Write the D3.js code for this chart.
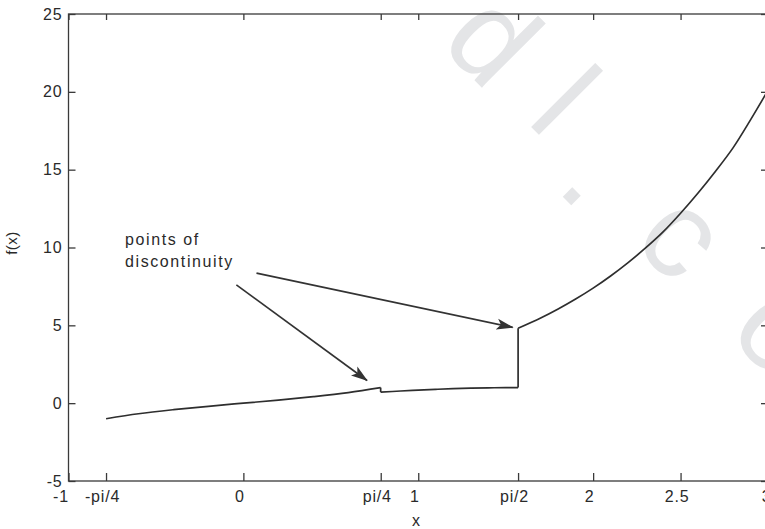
<!DOCTYPE html>
<html>
<head>
<meta charset="utf-8">
<script src="https://cdnjs.cloudflare.com/ajax/libs/d3/7.8.5/d3.min.js"></script>
<style>
  body { margin: 0; background: #fff; }
  svg { display: block; font-family: "Liberation Sans", Arial, sans-serif; }
  .axis path, .axis line { stroke: #3a3a3a; stroke-width: 1.3; }
  .axis text { fill: #2a2a2a; font-size: 16px; letter-spacing: 0.8px; }
  .curve { fill: none; stroke: #2e2e2e; stroke-width: 1.7; stroke-linejoin: miter; }
  .note { fill: #2a2a2a; font-size: 16px; letter-spacing: 1.6px; }
  .arrow { stroke: #333; stroke-width: 1.7; }
  .mark { fill: #e4e5e7; font-size: 125px; }
</style>
</head>
<body>
<svg id="chart" width="765" height="529"></svg>
<script>
// axis ticks
const xTickValues = [-1, -Math.PI / 4, 0, Math.PI / 4, 1, Math.PI / 2, 2, 2.5, 3];
const xTickLabels = ["-1", "-pi/4", "0", "pi/4", "1", "pi/2", "2", "2.5", "3"];
const yTickValues = [-5, 0, 5, 10, 15, 20, 25];
const yTickLabels = ["-5", "0", "5", "10", "15", "20", "25"];

// f(x) (three pieces joined by jumps)
const curveX = [-0.785, -0.6, -0.4, -0.2, 0, 0.2, 0.4, 0.6, 0.785,
                0.785, 0.9, 1.0, 1.1, 1.2, 1.3, 1.4, 1.5, 1.571,
                1.571, 1.7, 1.8, 1.9, 2.0, 2.1, 2.2, 2.3, 2.4, 2.5, 2.6, 2.7, 2.8, 2.9, 3.0];
const curveY = [-1.0, -0.68, -0.42, -0.2, 0, 0.2, 0.42, 0.68, 1.0,
                0.71, 0.78, 0.84, 0.89, 0.93, 0.96, 0.985, 1.0, 1.0,
                4.81, 5.47, 6.05, 6.69, 7.39, 8.17, 9.03, 9.97, 11.0, 12.2, 13.5, 14.9, 16.4, 18.2, 20.1];

const noteLines = ["points of", "discontinuity"];

const svg = d3.select("#chart");
const plotL = 68.5, plotR = 768, plotT = 14, plotB = 481;

const x = d3.scaleLinear().domain([-1, 3]).range([plotL, plotR]);
const y = d3.scaleLinear().domain([-5, 25]).range([plotB, plotT]);

// faint watermark letters
const wm = svg.append("g");
[["d", 494, 38], ["l", 566, 100], [".", 598, 170], ["c", 684, 234], ["o", 782, 328]].forEach(function(d) {
    wm.append("text").attr("class", "mark")
        .attr("text-anchor", "middle")
        .attr("transform", "translate(" + d[1] + "," + d[2] + ") rotate(45)")
        .attr("dy", "0.35em")
        .text(d[0]);
});

svg.append("g").attr("class", "x axis")
    .attr("transform", "translate(0," + plotB + ")")
    .call(d3.axisBottom(x).tickValues(xTickValues).tickFormat(function(d, i) { return xTickLabels[i]; })
        .tickSizeInner(-8).tickSizeOuter(0).tickPadding(10))
    .selectAll("text").attr("dx", function(d, i) { return i === 0 ? -8 : (i === 8 ? -2 : -4); });

svg.append("g").attr("class", "axis")
    .attr("transform", "translate(0," + plotT + ")")
    .call(d3.axisTop(x).tickValues(xTickValues).tickFormat("").tickSizeInner(-6).tickSizeOuter(0));

svg.append("g").attr("class", "y axis")
    .attr("transform", "translate(" + plotL + ",0)")
    .call(d3.axisLeft(y).tickValues(yTickValues).tickFormat(function(d, i) { return yTickLabels[i]; })
        .tickSizeInner(-7).tickSizeOuter(0).tickPadding(6));

svg.append("g").attr("class", "axis")
    .attr("transform", "translate(" + plotR + ",0)")
    .call(d3.axisRight(y).tickValues(yTickValues).tickFormat("").tickSizeInner(-7).tickSizeOuter(0));

svg.selectAll(".axis .domain").remove();
svg.append("rect")
    .attr("x", plotL).attr("y", plotT)
    .attr("width", plotR - plotL).attr("height", plotB - plotT)
    .attr("fill", "none").attr("stroke", "#3a3a3a").attr("stroke-width", 1.3);

// axis titles
svg.append("text").attr("class", "note")
    .attr("x", 416).attr("y", 526)
    .attr("text-anchor", "middle").style("letter-spacing", "0")
    .text("x");
svg.append("text").attr("class", "note")
    .attr("transform", "translate(17,243) rotate(-90)")
    .attr("text-anchor", "middle").style("letter-spacing", "0.5px").style("font-size", "15px")
    .text("f(x)");

// the curve: smooth pieces, straight jumps between them
const pts = d3.zip(curveX, curveY);
const pieces = [];
pts.forEach(function(p, i) {
    if (i === 0 || p[0] === pts[i - 1][0]) pieces.push([]);
    pieces[pieces.length - 1].push(p);
});
const smooth = d3.line().curve(d3.curveCatmullRom.alpha(0.5))
    .x(function(d) { return x(d[0]); }).y(function(d) { return y(d[1]); });
const straight = d3.line()
    .x(function(d) { return x(d[0]); }).y(function(d) { return y(d[1]); });

svg.selectAll(".piece").data(pieces).enter().append("path")
    .attr("class", "curve piece")
    .attr("d", smooth);
svg.selectAll(".jump").data(pieces.slice(1)).enter().append("path")
    .attr("class", "curve jump")
    .attr("d", function(d, i) { return straight([pieces[i][pieces[i].length - 1], d[0]]); });

// annotation
svg.append("defs").append("marker")
    .attr("id", "head").attr("viewBox", "0 -6 17 12")
    .attr("refX", 16).attr("refY", 0)
    .attr("markerWidth", 17).attr("markerHeight", 12)
    .attr("markerUnits", "userSpaceOnUse").attr("orient", "auto")
    .append("path").attr("d", "M0,-5.5L17,0L0,5.5L4,0Z").attr("fill", "#333");

const noteX = -0.677, noteY = 10.16;
noteLines.forEach(function(t, i) {
    svg.append("text").attr("class", "note")
        .attr("x", x(noteX)).attr("y", y(noteY) + i * 22)
        .text(t);
});

const arrows = [
    {from: [-0.04, 7.6], to: [0.707, 1.46]},
    {from: [0.075, 8.35], to: [1.54, 4.87]}
];
svg.selectAll(".arrow").data(arrows).enter().append("line")
    .attr("class", "arrow")
    .attr("x1", function(d) { return x(d.from[0]); })
    .attr("y1", function(d) { return y(d.from[1]); })
    .attr("x2", function(d) { return x(d.to[0]); })
    .attr("y2", function(d) { return y(d.to[1]); })
    .attr("marker-end", "url(#head)");
</script>
</body>
</html>
